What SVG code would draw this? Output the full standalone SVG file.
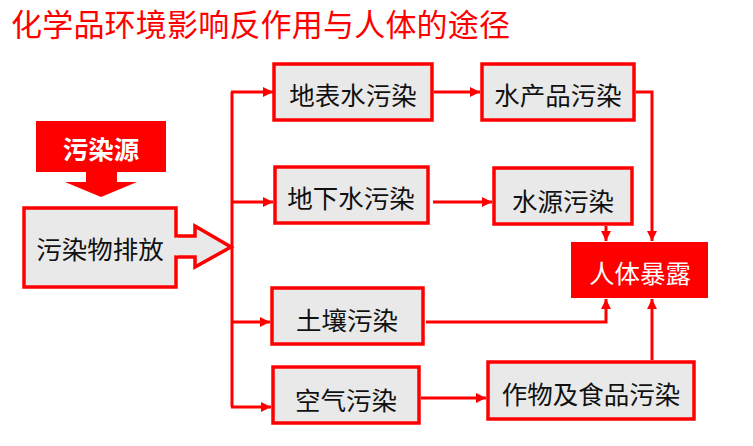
<svg xmlns="http://www.w3.org/2000/svg" width="753" height="446" viewBox="0 0 753 446">
<defs>
<marker id="ah" viewBox="0 0 10 10" refX="10" refY="5" markerWidth="11" markerHeight="10" markerUnits="userSpaceOnUse" orient="auto">
<path d="M0,0 L10,5 L0,10 Z" fill="#ff0000"/>
</marker>
</defs>
<style>
.box{fill:#e9e9e9;stroke:#ff0000;stroke-width:3.5}
.red{fill:#ff0000;stroke:none}
.t{font-family:"Noto Sans CJK SC","Noto Sans CJK JP",sans-serif;font-size:25.5px;fill:#111;text-anchor:middle;dominant-baseline:central}
.w{fill:#ffffff}
.c{fill:none;stroke:#ff0000;stroke-width:3}
</style>
<rect width="753" height="446" fill="#ffffff"/>
<text x="11" y="36" font-family="'Noto Sans CJK SC','Noto Sans CJK JP',sans-serif" font-size="31" fill="#ff0000" textLength="499" lengthAdjust="spacing">化学品环境影响反作用与人体的途径</text>

<g id="source">
<path class="red" d="M36,121 H166 V172 H117 V182 H137 L101,197 L65,182 H86 V172 H36 Z"/>
<text class="t w" x="101" y="147" font-size="26" font-weight="bold">污染源</text>
</g>

<g id="emission">
<rect class="box" x="24" y="208" width="152" height="79"/>
<path class="box" d="M176,236 H195 V226 L231,247 L195,267 V257 H176"/>
<rect x="172" y="237.7" width="6" height="17.6" fill="#e9e9e9"/>
<text class="t" x="100" y="247">污染物排放</text>
</g>

<g id="surface-water">
<rect class="box" x="274" y="64" width="158" height="56"/>
<text class="t" x="353" y="93">地表水污染</text>
</g>
<g id="ground-water">
<rect class="box" x="275" y="167" width="153" height="56"/>
<text class="t" x="351" y="196">地下水污染</text>
</g>
<g id="soil">
<rect class="box" x="272" y="288" width="151" height="56"/>
<text class="t" x="347" y="318">土壤污染</text>
</g>
<g id="air">
<rect class="box" x="273" y="367" width="146" height="56"/>
<text class="t" x="346" y="398">空气污染</text>
</g>
<g id="aquatic">
<rect class="box" x="482" y="64" width="152" height="56"/>
<text class="t" x="558" y="93">水产品污染</text>
</g>
<g id="water-source">
<rect class="box" x="494" y="168" width="138" height="56"/>
<text class="t" x="563" y="199">水源污染</text>
</g>
<g id="crop">
<rect class="box" x="488" y="362" width="206" height="57"/>
<text class="t" x="591" y="392">作物及食品污染</text>
</g>
<g id="human">
<rect class="red" x="571" y="242" width="137" height="56"/>
<text class="t w" x="640" y="271" font-size="27">人体暴露</text>
</g>

<g id="connectors">
<path class="c" d="M232,407 V92"/>
<path class="c" d="M231,92 H273" marker-end="url(#ah)"/>
<path class="c" d="M232,202 H273" marker-end="url(#ah)"/>
<path class="c" d="M232,322 H270" marker-end="url(#ah)"/>
<path class="c" d="M231,407 H271" marker-end="url(#ah)"/>
<path class="c" d="M434,92 H480" marker-end="url(#ah)"/>
<path class="c" d="M433,202 H492" marker-end="url(#ah)"/>
<path class="c" d="M636,92 H652 V241" marker-end="url(#ah)"/>
<path class="c" d="M606,226 V241" marker-end="url(#ah)"/>
<path class="c" d="M426,322 H606 V299" marker-end="url(#ah)"/>
<path class="c" d="M652,360 V299" marker-end="url(#ah)"/>
<path class="c" d="M421,398 H486" marker-end="url(#ah)"/>
</g>
</svg>
